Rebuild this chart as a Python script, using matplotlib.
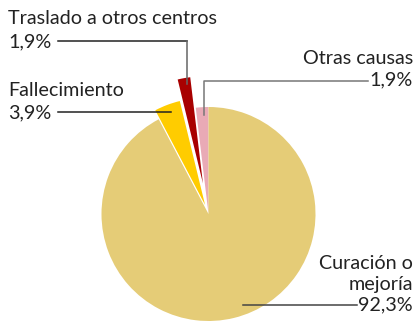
import matplotlib
matplotlib.use("Agg")
import matplotlib.pyplot as plt

# Motivo de alta (%)
labels = ["Otras causas", "Traslado a otros centros", "Fallecimiento", "Curación o\nmejoría"]
values = [1.9, 1.9, 3.9, 92.3]
value_text = ["1,9%", "1,9%", "3,9%", "92,3%"]
colors = ["#E9AAB6", "#A80000", "#FFCC00", "#E5CC77"]
explode = [0.0, 0.29, 0.09, 0.0]  # fraction of radius

W, H = 417, 321
R = 107

fig = plt.figure(figsize=(W / 100, H / 100), dpi=100)
ax = fig.add_axes([0, 0, 1, 1])

def py(y):
    # pixel row from the top -> data y
    return H - y

# matplotlib applies explode in data units, so scale by the radius
ax.pie(values, colors=colors, explode=[e * R for e in explode], startangle=90,
       counterclock=True, center=(208.5, py(214)), radius=R, frame=True,
       wedgeprops=dict(linewidth=0))
ax.set_xlim(0, W)
ax.set_ylim(0, H)
ax.set_aspect("auto")
ax.axis("off")

font = dict(family="Lato", fontsize=14.2, color="#222222")

# Traslado a otros centros
ax.text(8, py(18), labels[1], ha="left", va="center", **font)
ax.text(8, py(42), value_text[1], ha="left", va="center", **font)
ax.plot([58, 187], [py(40.7), py(40.7)], color="#222222", lw=1.1)
ax.plot([187, 187], [py(40.7), py(84)], color="#666666", lw=1.1)

# Otras causas
ax.text(413, py(58), labels[0], ha="right", va="center", **font)
ax.text(413, py(80), value_text[0], ha="right", va="center", **font)
ax.plot([203.7, 203.7, 368], [py(115), py(80.5), py(80.5)], color="#777777", lw=1.1)

# Fallecimiento
ax.text(8, py(90), labels[2], ha="left", va="center", **font)
ax.text(8, py(113), value_text[2], ha="left", va="center", **font)
ax.plot([58, 171], [py(112.3), py(112.3)], color="#222222", lw=1.1)

# Curación o mejoría
ax.text(413, py(274), labels[3], ha="right", va="center", multialignment="right",
        linespacing=1.25, **font)
ax.text(413, py(305), value_text[3], ha="right", va="center", **font)
ax.plot([243, 357], [py(305), py(305)], color="#444444", lw=1.1)

fig.savefig("out.png", dpi=100)
